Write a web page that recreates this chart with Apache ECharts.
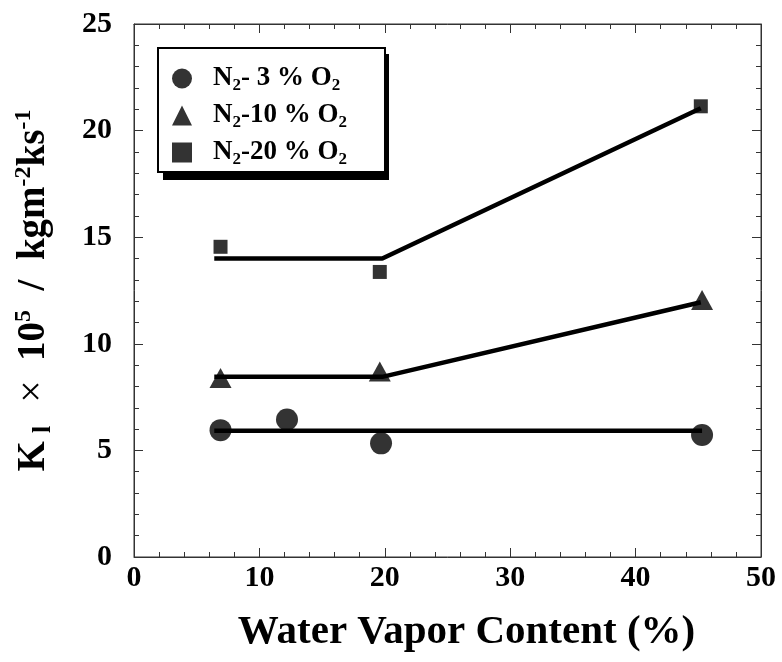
<!DOCTYPE html>
<html>
<head>
<meta charset="utf-8">
<script src="https://cdn.jsdelivr.net/npm/echarts@6/dist/echarts.min.js"></script>
<style>html,body{margin:0;padding:0;background:#fff;}#c{width:782px;height:662px;}</style>
</head>
<body>
<div id="c"></div>
<script>
// Measured data points
const xCircle = [6.9, 12.2, 19.7, 45.3];
const yCircle = [5.95, 6.45, 5.33, 5.72];
const xTri = [6.9, 19.6, 45.3];
const yTri = [8.4, 8.7, 12.05];
const xSq = [6.9, 19.6, 45.2];
const ySq = [14.55, 13.37, 21.14];
// Fitted lines
const fitCircleX = [6.4, 45.3];
const fitCircleY = [5.92, 5.92];
const fitTriX = [6.4, 19.8, 45.2];
const fitTriY = [8.45, 8.45, 11.95];
const fitSqX = [6.4, 19.8, 45.2];
const fitSqY = [14.0, 14.0, 21.05];
const seriesNames = ['N2- 3%O2', 'N2-10%O2', 'N2-20%O2'];
const xTicks = [0, 10, 20, 30, 40, 50];
const yTicks = [0, 5, 10, 15, 20, 25];

const zip = (xs, ys) => xs.map((x, i) => [x, ys[i]]);
const FONT = 'Liberation Serif';

const chart = echarts.init(document.getElementById('c'));

const mkAxis = (extra) => Object.assign({
  show: true,
  axisLine: { show: true, onZero: false, lineStyle: { color: '#333', width: 1 } },
  axisTick: { show: true, inside: true, length: 9, lineStyle: { color: '#333', width: 1 } },
  minorTick: { show: true, splitNumber: 5, length: 5, lineStyle: { color: '#333', width: 1 } },
  splitLine: { show: false }
}, extra);

const legendLabel = (name) => {
  const m = name.match(/^N2(.*)%O2$/);
  return '{n|N}{s|2}{n|' + m[1] + ' % O}{s|2}';
};

const option = {
  animation: false,
  backgroundColor: '#fff',
  grid: { left: 134, right: 21, top: 24, bottom: 105, show: true, borderColor: '#333', borderWidth: 1 },
  graphic: [{
    type: 'rect', z: 1, silent: true,
    shape: { x: 163, y: 54, width: 226, height: 126 },
    style: { fill: '#000' }
  }],
  legend: {
    orient: 'vertical',
    left: 158,
    top: 48,
    z: 5,
    data: seriesNames,
    itemWidth: 20,
    itemHeight: 20,
    itemGap: 6,
    padding: [15, 38, 4, 14],
    borderColor: '#000',
    borderWidth: 2,
    borderRadius: 0,
    backgroundColor: '#fff',
    formatter: legendLabel,
    textStyle: {
      color: '#000',
      fontFamily: FONT,
      fontWeight: 'bold',
      fontSize: 27,
      rich: {
        n: { fontFamily: FONT, fontWeight: 'bold', fontSize: 27, color: '#000', lineHeight: 30 },
        s: { fontFamily: FONT, fontWeight: 'bold', fontSize: 17, color: '#000', lineHeight: 30, padding: [14, 0, 0, 0] }
      },
      padding: [0, 0, 0, 16]
    }
  },
  xAxis: [
    mkAxis({
      type: 'value', min: 0, max: 50, interval: 10, position: 'bottom',
      axisLabel: { color: '#000', fontFamily: FONT, fontWeight: 'bold', fontSize: 30, margin: 6,
        formatter: v => xTicks.includes(v) ? String(v) : '' },
      name: 'Water Vapor Content (%)',
      nameLocation: 'middle',
      nameGap: 55,
      nameTextStyle: { color: '#000', fontFamily: FONT, fontWeight: 'bold', fontSize: 41, padding: [0, 0, 0, 38] }
    }),
    mkAxis({
      type: 'value', min: 0, max: 50, interval: 10, position: 'top',
      axisLabel: { show: false }
    })
  ],
  yAxis: [
    mkAxis({
      type: 'value', min: 0, max: 25, interval: 5, position: 'left',
      axisLabel: { color: '#000', fontFamily: FONT, fontWeight: 'bold', fontSize: 30, margin: 22,
        formatter: v => yTicks.includes(v) ? String(v) : '' },
      name: '{b|K}{sb|l}{x|  ×  }{b|10}{sp|5}{b|  /  kgm}{sp|-2}{b|ks}{sp|-1}',
      nameLocation: 'middle',
      nameGap: 78,
      nameRotate: 90,
      nameTextStyle: {
        color: '#000', fontFamily: FONT, fontWeight: 'bold', fontSize: 39,
        rich: {
          b: { fontFamily: FONT, fontWeight: 'bold', fontSize: 39, color: '#000', lineHeight: 44 },
          sb: { fontFamily: FONT, fontWeight: 'bold', fontSize: 26, color: '#000', lineHeight: 44, padding: [18, 4, 0, 8] },
          x: { fontFamily: FONT, fontWeight: 'normal', fontSize: 39, color: '#000', lineHeight: 44 },
          sp: { fontFamily: FONT, fontWeight: 'bold', fontSize: 24, color: '#000', lineHeight: 44, padding: [0, 0, 20, 0] }
        }
      }
    }),
    mkAxis({
      type: 'value', min: 0, max: 25, interval: 5, position: 'right',
      axisLabel: { show: false }
    })
  ],
  series: [
    { name: 'fit1', type: 'line', xAxisIndex: 1, yAxisIndex: 1, data: zip(fitCircleX, fitCircleY), symbol: 'none', lineStyle: { color: '#000', width: 4.5 }, silent: true, z: 2 },
    { name: 'fit2', type: 'line', xAxisIndex: 1, yAxisIndex: 1, data: zip(fitTriX, fitTriY), symbol: 'none', lineStyle: { color: '#000', width: 4.5 }, silent: true, z: 2 },
    { name: 'fit3', type: 'line', xAxisIndex: 1, yAxisIndex: 1, data: zip(fitSqX, fitSqY), symbol: 'none', lineStyle: { color: '#000', width: 4.5 }, silent: true, z: 2 },
    { name: seriesNames[0], type: 'scatter', data: zip(xCircle, yCircle), symbol: 'circle', symbolSize: 22, itemStyle: { color: '#000' }, z: 3 },
    { name: seriesNames[1], type: 'scatter', data: zip(xTri, yTri), symbol: 'triangle', symbolSize: [22, 20], itemStyle: { color: '#000' }, z: 3 },
    { name: seriesNames[2], type: 'scatter', data: zip(xSq, ySq), symbol: 'rect', symbolSize: 14, itemStyle: { color: '#000' }, z: 3 }
  ]
};
chart.setOption(option);
</script>
</body>
</html>
